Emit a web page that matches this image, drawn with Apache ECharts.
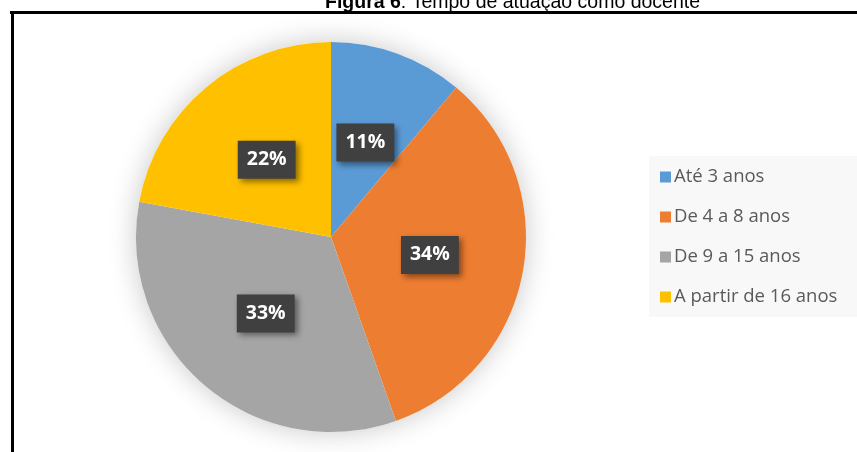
<!DOCTYPE html>
<html>
<head>
<meta charset="utf-8">
<script src="https://cdn.jsdelivr.net/npm/echarts@6/dist/echarts.min.js"></script>
<style>html,body{margin:0;padding:0;background:#fff;}#c{width:857px;height:452px;}</style>
</head>
<body>
<div id="c"></div>
<script>
const categories = ['Até 3 anos', 'De 4 a 8 anos', 'De 9 a 15 anos', 'A partir de 16 anos'];
const values = [11.1, 33.5, 33.3, 22.1];
const colors = ['#5B9BD5', '#ED7D31', '#A5A5A5', '#FFC000'];
const titleBold = 'Figura 6';
const titleRest = ': Tempo de atuação como docente';

const chart = echarts.init(document.getElementById('c'), null, {renderer: 'canvas'});
chart.setOption({
  animation: false,
  color: colors,
  legend: {
    orient: 'vertical',
    left: 649,
    top: 156,
    padding: [11, 40, 10, 11],
    backgroundColor: '#f8f8f8',
    itemWidth: 11,
    itemHeight: 11,
    itemGap: 20,
    icon: 'rect',
    textStyle: {fontFamily: 'Open Sans', fontSize: 18.5, lineHeight: 20, color: '#595959', padding: [0,0,0,-2]},
    data: categories
  },
  graphic: [
    {type: 'line', shape: {x1: 10, y1: 12.5, x2: 857, y2: 12.5}, style: {stroke: '#000', lineWidth: 3}},
    {type: 'line', shape: {x1: 12.5, y1: 11, x2: 12.5, y2: 452}, style: {stroke: '#000', lineWidth: 3}},
    {type: 'text', left: 325, top: -7, style: {
      text: '{b|' + titleBold + '}{n|' + titleRest + '}',
      rich: {
        b: {fontFamily: 'Liberation Sans', fontWeight: 'bold', fontSize: 19.5, fill: '#000'},
        n: {fontFamily: 'Liberation Sans', fontSize: 19.5, fill: '#000'}
      }
    }}
  ],
  series: [
    {
      type: 'pie', silent: true, center: [331, 237], radius: 195,
      label: {show: false}, labelLine: {show: false},
      itemStyle: {color: '#fff', shadowBlur: 28, shadowColor: 'rgba(0,0,0,0.22)'},
      data: [{value: 1, name: '_shadow'}],
      legendHoverLink: false
    },
    {
      type: 'pie', center: [331, 237], radius: 195, startAngle: 90, clockwise: true,
      data: categories.map((n, i) => ({name: n, value: values[i]})),
      itemStyle: {borderWidth: 0},
      labelLine: {show: false},
      label: {
        show: true, position: 'inside',
        formatter: p => Math.round(p.percent) + '%',
        color: '#fff', fontFamily: 'Open Sans', fontWeight: 'bold', fontSize: 19.5,
        backgroundColor: '#404040', padding: [10, 9, 8, 9],
        shadowBlur: 6, shadowColor: 'rgba(0,0,0,0.45)', shadowOffsetX: 3, shadowOffsetY: 3
      }
    }
  ]
});
</script>
</body>
</html>
